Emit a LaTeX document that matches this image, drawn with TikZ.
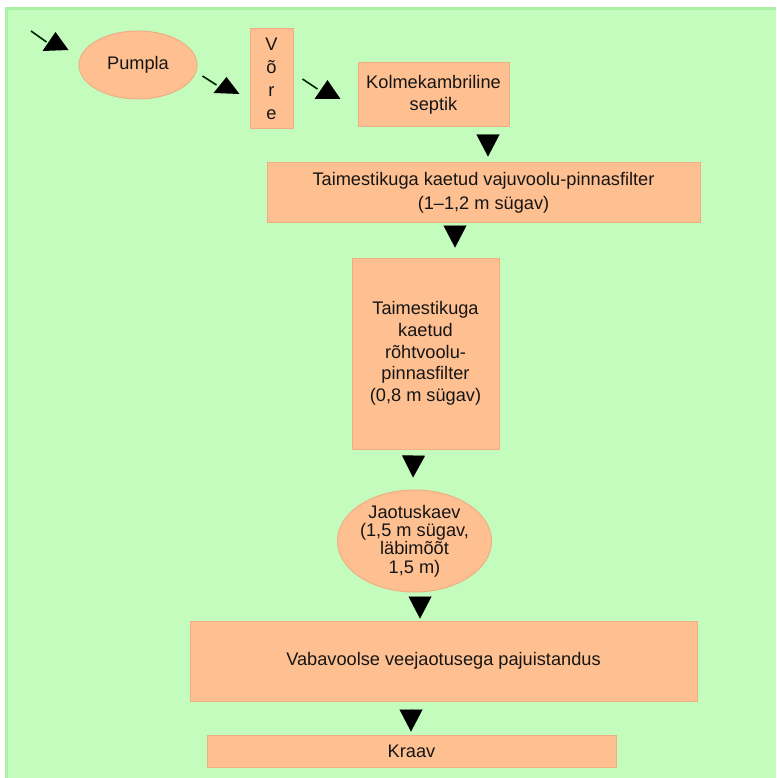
\documentclass[tikz,border=0pt]{standalone}
\usepackage{fontspec}
\setmainfont{Liberation Sans}
\usetikzlibrary{shapes.geometric,arrows.meta,calc}
\definecolor{bg}{HTML}{C4FCBE}
\definecolor{bgedge}{HTML}{ABF2A4}
\definecolor{boxfill}{HTML}{FFC091}
\definecolor{boxline}{HTML}{EFAE84}
\definecolor{ink}{HTML}{151515}
\begin{document}
\begin{tikzpicture}[x=1pt,y=-1pt,
  font=\fontsize{18.2}{22.5}\selectfont,
  boxn/.style={draw=boxline, fill=boxfill, line width=1pt, align=center, inner sep=0pt, text=ink},
  elln/.style={boxn, ellipse},
  flow/.style={-{Triangle[length=22pt,width=23pt]}, line width=0.01pt, draw=black, fill=black},
  diag/.style={line width=1.6pt, draw=black!85!green},
  headtri/.style={fill=black},
  ]
\useasboundingbox (0,0) rectangle (776,778);
\fill[white] (0,0) rectangle (776,778);
\fill[bg] (5,7) rectangle (776,778);
\draw[bgedge, line width=3pt] (6.5,778) -- (6.5,8.5) -- (776,8.5);

% nodes
\node[elln, minimum width=118pt, minimum height=68pt] (pumpla) at (138,65) {Pumpla};
\node[boxn, minimum width=43pt, minimum height=100pt, font=\fontsize{18.2}{22.8}\selectfont] (vore) at (271.5,79) {V\\õ\\r\\e};
\node[boxn, minimum width=151pt, minimum height=64pt] (septik) at (433.5,95) {Kolmekambriline\\septik};
\node[boxn, minimum width=433pt, minimum height=59pt, font=\fontsize{18.2}{24}\selectfont] (filter1) at (483.5,192.5) {Taimestikuga kaetud vajuvoolu-pinnasfilter\\(1--1,2 m sügav)};
\node[boxn, minimum width=147pt, minimum height=191pt, font=\fontsize{18.2}{21.7}\selectfont] (filter2) at (425.5,353.5) {Taimestikuga\\kaetud\\rõhtvoolu-\\pinnasfilter\\(0,8 m sügav)};
\node[elln, minimum width=128pt, minimum height=102pt, font=\fontsize{18.2}{18.2}\selectfont] (kaev) at (414.5,541) {Jaotuskaev\\(1,5 m sügav,\\läbimõõt\\1,5 m)};
\node[boxn, minimum width=507pt, minimum height=80pt] (paju) at (443.5,661) {Vabavoolse veejaotusega pajuistandus};
\node[boxn, minimum width=409pt, minimum height=32pt] (kraav) at (411.5,751) {Kraav};

% diagonal arrows at top
\coordinate (inlet) at (31,31);
\draw[diag] (inlet) -- ($(pumpla.west)+(-32,-23)$);
\fill[headtri] ($(pumpla.west)+(-36,-14)$) -- ($(pumpla.west)+(-23,-33)$) -- ($(pumpla.west)+(-10,-15)$) -- cycle;

\draw[diag] ($(pumpla.east)+(5,11)$) -- ($(vore.west)+(-33,6)$);
\fill[headtri] ($(vore.west)+(-36,14)$) -- ($(vore.west)+(-23,-2)$) -- ($(vore.west)+(-10,15)$) -- cycle;

\draw[diag] ($(vore.east)+(9,0)$) -- ($(septik.west)+(-40,-6)$);
\fill[headtri] ($(septik.west)+(-43,4)$) -- ($(septik.west)+(-30,-15)$) -- ($(septik.west)+(-17,4)$) -- cycle;

% vertical flow arrows
\draw[flow] ($(septik.south)+(54.5,8)$) -- ($(filter1.north)+(4.5,-6)$);
\draw[flow] ($(filter1.south)+(-28.5,4)$) -- ($(filter1.south)+(-28.5,25)$);
\draw[flow] ($(filter2.south)+(-12,6)$) -- ($(kaev.north)+(-1.5,-12)$);
\draw[flow] ($(kaev.south)+(5.5,5)$) -- ($(paju.north)+(-23.5,-2)$);
\draw[flow] ($(paju.south)+(-32.5,7)$) -- ($(kraav.north)+(-0.5,-3)$);
\end{tikzpicture}
\end{document}
